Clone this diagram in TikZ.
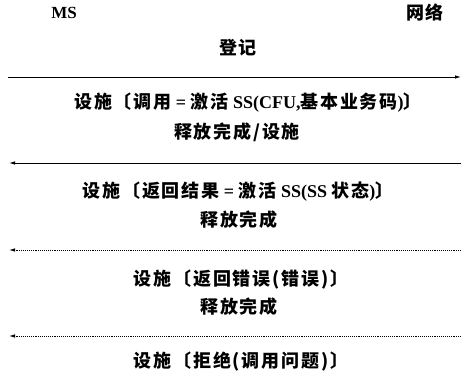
\documentclass[tikz,border=0pt]{standalone}
\usepackage{fontspec}
\setmainfont{Liberation Serif}
\newfontfamily\cjk{Noto Sans CJK SC}[LetterSpace=10]
\newcommand{\zh}[1]{{\cjk\bfseries\fontsize{18}{20}\selectfont #1}}
\usetikzlibrary{positioning,arrows.meta}

\begin{document}
\begin{tikzpicture}[
  x=1pt, y=1pt,
  every node/.style={font=\bfseries\fontsize{18}{20}\selectfont, inner sep=1pt},
  msg/.style={anchor=center},
  party/.style={font=\bfseries\fontsize{17}{19}\selectfont},
  sig/.style={-{Latex[length=6pt,width=3.5pt]}, line width=0.9pt},
  sigdot/.style={sig, densely dotted}
]
\useasboundingbox (0,0) rectangle (461,376);

% end points
\node[party] (ms)  at (64,363)  {MS};
\node[party] (net) at (425,363) {\zh{网络}};

% registration
\node[msg] (reg) at (238,328) {\zh{登记}};
\coordinate (a1) at (8,299);
\coordinate (b1) at (461,299);
\draw[sig] (a1) -- (b1);

\node[msg] (inv)  at (248,273) {\zh{设施〔调用} = \zh{激活} SS(CFU,\zh{基本业务码})\zh{〕}};
\node[msg] (rel1) at (237,244) {\zh{释放完成/设施}};
\coordinate (a2) at (461,213);
\coordinate (b2) at (9,213);
\draw[sig] (a2) -- (b2);

\node[msg] (res)  at (238,184) {\zh{设施〔返回结果} = \zh{激活} SS(SS \zh{状态})\zh{〕}};
\node[msg] (rel2) at (239,156) {\zh{释放完成}};
\coordinate (a3) at (461,126);
\coordinate (b3) at (9,126);
\draw[sigdot] (a3) -- (b3);

\node[msg] (err)  at (241,96) {\zh{设施〔返回错误(错误)〕}};
\node[msg] (rel3) at (239,69) {\zh{释放完成}};
\coordinate (a4) at (461,40);
\coordinate (b4) at (9,40);
\draw[sigdot] (a4) -- (b4);

\node[msg] (rej)  at (241,14) {\zh{设施〔拒绝(调用问题)〕}};

\end{tikzpicture}
\end{document}
